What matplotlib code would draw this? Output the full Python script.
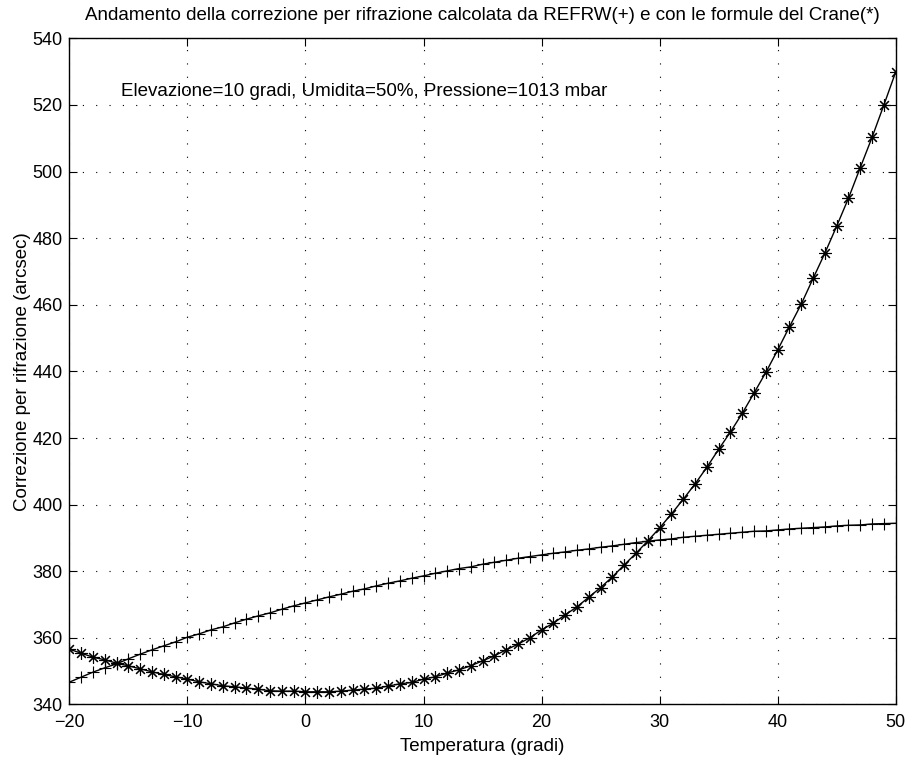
import numpy as np
import matplotlib
matplotlib.use("Agg")
import matplotlib.pyplot as plt

# ---------------- Data ----------------
temperature = list(range(-20, 51))

# REFRW (+)
refrw = [
    346.7, 348.2, 349.7, 351.0, 352.2, 353.7, 355.1, 356.4, 357.6, 358.8,
    360.2, 361.2, 362.4, 363.3, 364.5, 365.6, 366.6, 367.5, 368.6, 369.6,
    370.5, 371.4, 372.3, 373.1, 374.0, 374.7, 375.6, 376.4, 377.1, 377.9,
    378.6, 379.4, 380.1, 380.8, 381.3, 382.1, 382.7, 383.3, 383.9, 384.4,
    384.9, 385.4, 385.8, 386.3, 386.7, 387.2, 387.6, 388.1, 388.6, 389.0,
    389.4, 389.7, 390.2, 390.5, 390.8, 391.1, 391.4, 391.7, 392.0, 392.1,
    392.4, 392.7, 392.9, 393.1, 393.3, 393.6, 393.8, 393.9, 394.2, 394.3,
    394.4,
]

# Crane (*)
crane = [
    356.6, 355.4, 354.2, 353.4, 352.4, 351.6, 350.7, 349.8, 349.0, 348.3,
    347.6, 346.8, 346.2, 345.6, 345.3, 344.9, 344.6, 344.1, 344.0, 344.0,
    343.8, 343.8, 343.8, 344.0, 344.3, 344.6, 344.9, 345.5, 346.2, 346.6,
    347.6, 348.3, 349.4, 350.4, 351.6, 353.1, 354.6, 356.4, 358.1, 360.0,
    362.4, 364.4, 366.9, 369.3, 372.2, 375.1, 378.3, 381.9, 385.4, 389.1,
    393.0, 397.2, 401.6, 406.2, 411.2, 416.6, 421.8, 427.4, 433.5, 439.7,
    446.4, 453.4, 460.2, 467.9, 475.5, 483.6, 492.0, 501.2, 510.3, 520.0,
    529.9,
]

xticks = [-20, -10, 0, 10, 20, 30, 40, 50]
yticks = list(range(340, 541, 20))

# ---------------- Plot ----------------
plt.rcParams['font.family'] = ['Liberation Sans', 'DejaVu Sans']
plt.rcParams['font.size'] = 13

fig = plt.figure(figsize=(9.1, 7.57), dpi=100)
ax = fig.add_axes([0.0762, 0.0694, 0.9081, 0.88])

ax.plot(temperature, refrw, color='black', lw=1, marker='+', ms=9, mew=0.8)
ax.plot(temperature, crane, color='black', lw=1, marker=(8, 2, 0), ms=9, mew=0.8)

ax.set_xlim(-20, 50)
ax.set_ylim(340, 540)
ax.set_xticks(xticks)
ax.set_yticks(yticks)
ax.set_xticklabels(['\u2212' + str(-t) if t < 0 else str(t) for t in xticks])
ax.grid(True, linestyle=(0, (1, 11)), color='black', lw=0.8)
ax.tick_params(axis='both', direction='in', top=True, right=True, length=6,
               width=0.8, labelsize=13)
ax.tick_params(axis='x', pad=7)
ax.tick_params(axis='y', pad=5)
for sp in ax.spines.values():
    sp.set_linewidth(1)

ax.set_xlabel('Temperatura (gradi)', fontsize=13.5, labelpad=5)
ax.set_ylabel('Correzione per rifrazione (arcsec)', fontsize=13.5, labelpad=1)
ax.set_title('Andamento della correzione per rifrazione calcolata da REFRW(+) '
             'e con le formule del Crane(*)', fontsize=13.5, pad=13)
ax.text(-15.6, 524, 'Elevazione=10 gradi, Umidita=50%, Pressione=1013 mbar',
        fontsize=13.5, va='center', ha='left')

fig.savefig('out.png', dpi=100)
